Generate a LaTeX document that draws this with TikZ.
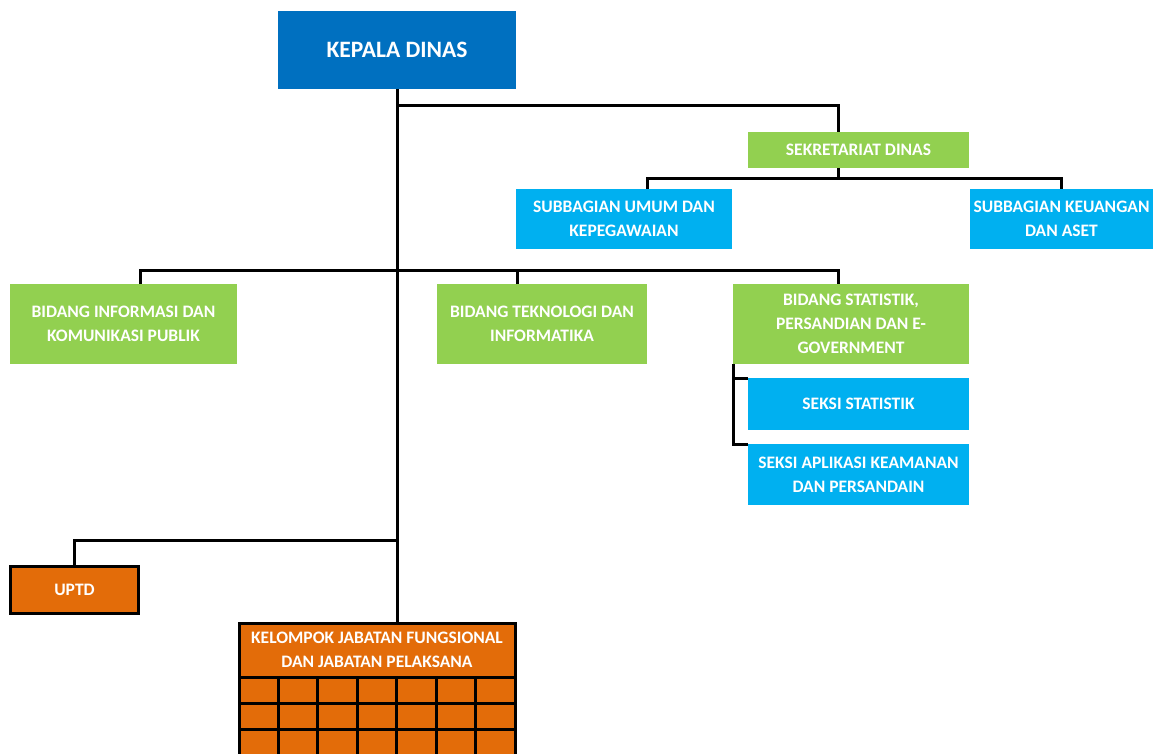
\documentclass[tikz,border=0pt]{standalone}
\usepackage{fontspec}
\setmainfont{Carlito}
\usepackage{tikz}
\definecolor{biruTua}{HTML}{0070C0}
\definecolor{biruMuda}{HTML}{00B0F0}
\definecolor{hijau}{HTML}{92D050}
\definecolor{oranye}{HTML}{E36C09}

\begin{document}
\begin{tikzpicture}[x=1pt,y=-1pt,
kt/.style n args={3}{fill=#1,minimum width=#2pt,minimum height=#3pt,inner sep=0pt,outer sep=0pt,align=center,text=white,font=\bfseries\fontsize{17.5}{24}\selectfont},
grs/.style={line width=3pt,draw=black},
oren/.style={draw=black,line width=3pt}]
\useasboundingbox (0,0) rectangle (1156,754);
\clip (0,0) rectangle (1156,754);
\node[kt={biruTua}{238}{78},font=\bfseries\fontsize{23.5}{28}\selectfont] (kepala) at (397,50) {KEPALA DINAS};
\node[kt={hijau}{221}{36}] (sekretariat) at (858.5,150) {SEKRETARIAT DINAS};
\node[kt={biruMuda}{216}{60}] (umum) at (624,219) {SUBBAGIAN UMUM DAN\\KEPEGAWAIAN};
\node[kt={biruMuda}{183}{60}] (keuangan) at (1061.5,219) {SUBBAGIAN KEUANGAN\\DAN ASET};
\node[kt={hijau}{227}{80}] (binfo) at (123.5,324) {BIDANG INFORMASI DAN\\KOMUNIKASI PUBLIK};
\node[kt={hijau}{210}{80}] (btek) at (542,324) {BIDANG TEKNOLOGI DAN\\INFORMATIKA};
\node[kt={hijau}{236}{80}] (bstat) at (851,324) {BIDANG STATISTIK,\\PERSANDIAN DAN E-\\GOVERNMENT};
\node[kt={biruMuda}{221}{52}] (sstat) at (858.5,404) {SEKSI STATISTIK};
\node[kt={biruMuda}{221}{61}] (sapl) at (858.5,474.5) {SEKSI APLIKASI KEAMANAN\\DAN PERSANDAIN};
\node[kt={oranye}{128}{47},oren] (uptd) at (74.5,589.5) {UPTD};
\node[kt={oranye}{276}{54},oren] (kelompok) at (377,650) {KELOMPOK JABATAN FUNGSIONAL\\DAN JABATAN PELAKSANA};
\foreach \r in {0,1,2} {
   \foreach \c in {0,...,6} {
      \draw[oren,fill=oranye] ([xshift=\c*276/7,yshift=-\r*26]kelompok.south west) rectangle ++(276/7,26);
   }
}
% garis
\draw[grs] (kepala.south) -- (kepala.south |- kelompok.north);
\draw[grs] (kepala.south |- 0,106) -| ([xshift=90]sekretariat.north west);
\draw[grs] ([xshift=90]sekretariat.south west) -- ++(0,11) coordinate (sekbawah);
\draw[grs] ([xshift=23]umum.north) |- (sekbawah) -| (keuangan.north);
\draw[grs] ([xshift=16.5]binfo.north) |- (kepala.south |- 0,270) -| ([xshift=-13]bstat.north);
\draw[grs] ([xshift=-25]btek.north) -- ([xshift=-25]btek.north |- 0,270);
\draw[grs] (bstat.south west) |- (sstat.north west);
\draw[grs] (bstat.south west) |- (sapl.north west);
\draw[grs] (kepala.south |- 0,540) -| (uptd.north);
\end{tikzpicture}
\end{document}
